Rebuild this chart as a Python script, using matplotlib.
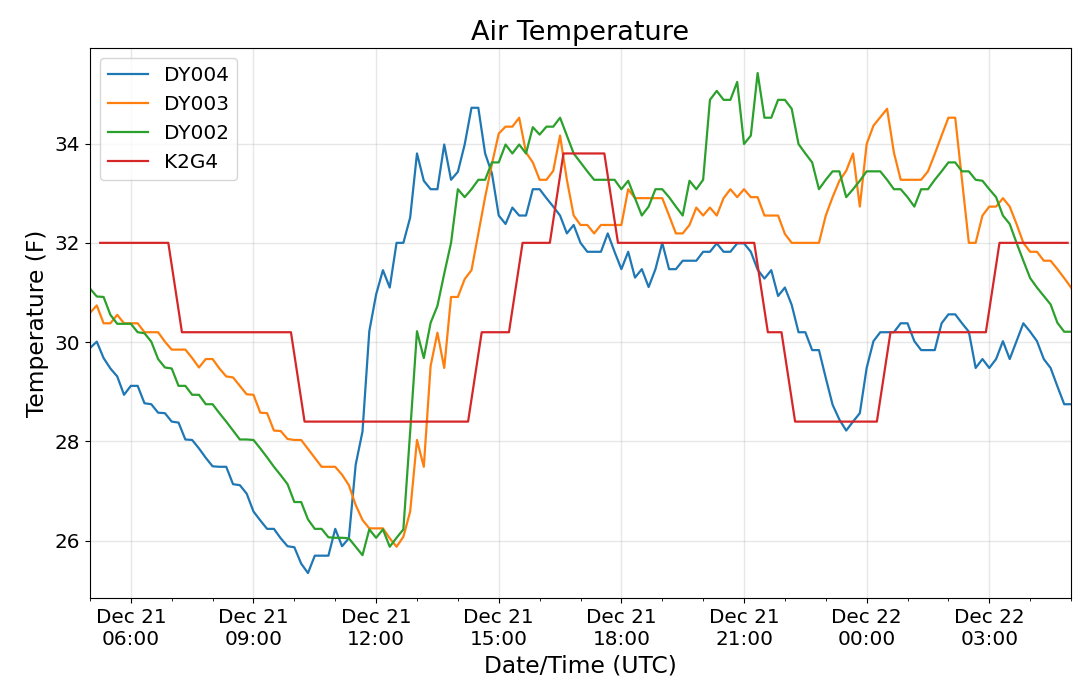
import matplotlib
matplotlib.use("Agg")
import matplotlib.pyplot as plt
import matplotlib.dates as mdates
import pandas as pd

# 10-minute station series (DY004, DY003, DY002), Dec 21 05:00 -> Dec 22 05:00 UTC
times_10min = pd.date_range("2017-12-21 05:00", periods=145, freq="10min")
# 20-minute K2G4 series, 05:15 -> 04:55
times_k2g4 = pd.date_range("2017-12-21 05:15", periods=72, freq="20min")

dy004 = [29.88, 30.01, 29.68, 29.47, 29.31, 28.94, 29.12, 29.12, 28.77, 28.75,
         28.58, 28.57, 28.40, 28.38, 28.04, 28.03, 27.86, 27.67, 27.50, 27.49,
         27.49, 27.14, 27.12, 26.95, 26.59, 26.41, 26.24, 26.24, 26.05, 25.89,
         25.87, 25.54, 25.35, 25.70, 25.70, 25.70, 26.24, 25.89, 26.05, 27.53,
         28.20, 30.22, 30.96, 31.45, 31.10, 32.00, 32.00, 32.51, 33.80, 33.25,
         33.08, 33.08, 33.98, 33.27, 33.43, 33.98, 34.72, 34.72, 33.80, 33.40,
         32.55, 32.38, 32.71, 32.55, 32.55, 33.08, 33.08, 32.90, 32.73, 32.55,
         32.19, 32.36, 32.00, 31.82, 31.82, 31.82, 32.19, 31.82, 31.47, 31.82,
         31.30, 31.47, 31.11, 31.47, 32.00, 31.47, 31.47, 31.64, 31.64, 31.64,
         31.82, 31.82, 31.99, 31.82, 31.82, 31.99, 31.99, 31.82, 31.46, 31.28,
         31.45, 30.93, 31.10, 30.75, 30.20, 30.20, 29.84, 29.84, 29.28, 28.74,
         28.44, 28.22, 28.40, 28.57, 29.48, 30.02, 30.20, 30.20, 30.20, 30.38,
         30.38, 30.02, 29.84, 29.84, 29.84, 30.38, 30.56, 30.56, 30.38, 30.21,
         29.48, 29.66, 29.48, 29.66, 30.02, 29.66, 30.02, 30.38, 30.21, 30.02,
         29.66, 29.48, 29.11, 28.75, 28.75]

dy003 = [30.59, 30.74, 30.38, 30.38, 30.55, 30.38, 30.38, 30.38, 30.20, 30.20,
         30.20, 30.01, 29.85, 29.85, 29.85, 29.68, 29.49, 29.66, 29.66, 29.47,
         29.31, 29.29, 29.12, 28.95, 28.94, 28.58, 28.57, 28.22, 28.21, 28.05,
         28.03, 28.03, 27.85, 27.67, 27.49, 27.49, 27.49, 27.33, 27.12, 26.72,
         26.42, 26.25, 26.25, 26.25, 26.05, 25.88, 26.08, 26.59, 28.03, 27.49,
         29.52, 30.19, 29.48, 30.91, 30.91, 31.27, 31.45, 32.18, 32.92, 33.59,
         34.20, 34.34, 34.34, 34.52, 33.82, 33.62, 33.27, 33.27, 33.45, 34.16,
         33.27, 32.55, 32.36, 32.36, 32.19, 32.36, 32.36, 32.36, 32.36, 33.08,
         32.90, 32.90, 32.90, 32.90, 32.90, 32.55, 32.19, 32.19, 32.36, 32.71,
         32.55, 32.71, 32.55, 32.90, 33.08, 32.92, 33.08, 32.92, 32.92, 32.55,
         32.55, 32.55, 32.18, 32.00, 32.00, 32.00, 32.00, 32.00, 32.55, 32.92,
         33.25, 33.45, 33.80, 32.73, 33.99, 34.36, 34.53, 34.70, 33.82, 33.27,
         33.27, 33.27, 33.27, 33.44, 33.79, 34.16, 34.52, 34.52, 33.25, 32.00,
         32.00, 32.55, 32.73, 32.73, 32.90, 32.73, 32.38, 32.00, 31.82, 31.82,
         31.64, 31.64, 31.47, 31.29, 31.10]

dy002 = [31.08, 30.92, 30.91, 30.55, 30.37, 30.37, 30.37, 30.20, 30.18, 30.01,
         29.66, 29.49, 29.47, 29.12, 29.12, 28.94, 28.94, 28.75, 28.75, 28.57,
         28.40, 28.22, 28.04, 28.04, 28.03, 27.86, 27.68, 27.49, 27.32, 27.14,
         26.78, 26.78, 26.43, 26.24, 26.24, 26.07, 26.06, 26.06, 26.05, 25.88,
         25.71, 26.23, 26.06, 26.23, 25.88, 26.06, 26.23, 28.20, 30.22, 29.68,
         30.39, 30.73, 31.38, 32.00, 33.08, 32.92, 33.08, 33.27, 33.27, 33.62,
         33.62, 33.98, 33.80, 33.98, 33.80, 34.33, 34.18, 34.34, 34.34, 34.52,
         34.16, 33.80, 33.62, 33.44, 33.27, 33.27, 33.27, 33.27, 33.08, 33.25,
         32.90, 32.55, 32.73, 33.08, 33.08, 32.92, 32.73, 32.55, 33.25, 33.08,
         33.27, 34.88, 35.06, 34.88, 34.88, 35.24, 33.99, 34.16, 35.42, 34.52,
         34.52, 34.88, 34.88, 34.70, 33.99, 33.80, 33.62, 33.08, 33.27, 33.44,
         33.44, 32.92, 33.08, 33.25, 33.44, 33.44, 33.44, 33.27, 33.08, 33.08,
         32.92, 32.73, 33.08, 33.08, 33.27, 33.44, 33.62, 33.62, 33.44, 33.44,
         33.27, 33.25, 33.08, 32.92, 32.55, 32.38, 32.00, 31.64, 31.29, 31.10,
         30.93, 30.76, 30.39, 30.21, 30.21]

k2g4 = [32.0, 32.0, 32.0, 32.0, 32.0, 32.0,
        30.2, 30.2, 30.2, 30.2, 30.2, 30.2, 30.2, 30.2, 30.2,
        28.4, 28.4, 28.4, 28.4, 28.4, 28.4, 28.4, 28.4, 28.4, 28.4, 28.4, 28.4, 28.4,
        30.2, 30.2, 30.2,
        32.0, 32.0, 32.0,
        33.8, 33.8, 33.8, 33.8,
        32.0, 32.0, 32.0, 32.0, 32.0, 32.0, 32.0, 32.0, 32.0, 32.0, 32.0,
        30.2, 30.2,
        28.4, 28.4, 28.4, 28.4, 28.4, 28.4, 28.4,
        30.2, 30.2, 30.2, 30.2, 30.2, 30.2, 30.2, 30.2,
        32.0, 32.0, 32.0, 32.0, 32.0, 32.0]

series_names = ["DY004", "DY003", "DY002", "K2G4"]
series_colors = ["#1f77b4", "#ff7f0e", "#2ca02c", "#d62728"]

fig = plt.figure(figsize=(10.8, 6.93), dpi=100)
ax = fig.add_axes([0.0833, 0.137, 0.9084, 0.7937])

ax.plot(times_10min, dy004, color=series_colors[0], lw=1.6, label=series_names[0])
ax.plot(times_10min, dy003, color=series_colors[1], lw=1.6, label=series_names[1])
ax.plot(times_10min, dy002, color=series_colors[2], lw=1.6, label=series_names[2])
ax.plot(times_k2g4, k2g4, color=series_colors[3], lw=1.6, label=series_names[3])

ax.set_xlim(times_10min[0], times_10min[-1])
ax.xaxis.set_major_locator(mdates.HourLocator(byhour=range(0, 24, 3)))
ax.xaxis.set_minor_locator(mdates.HourLocator())
ax.xaxis.set_major_formatter(mdates.DateFormatter("%b %d\n%H:%M"))
ax.set_yticks([26, 28, 30, 32, 34])

ax.tick_params(axis="both", which="major", labelsize=14.4)
ax.grid(True, which="major", color="#b0b0b0", alpha=0.3, lw=1.0)

ax.set_title("Air Temperature", fontsize=19.5)
ax.set_xlabel("Date/Time (UTC)", fontsize=16.8)
ax.set_ylabel("Temperature (F)", fontsize=16.8)
ax.legend(loc="upper left", fontsize=14.4)

fig.savefig("out.png", dpi=100)
